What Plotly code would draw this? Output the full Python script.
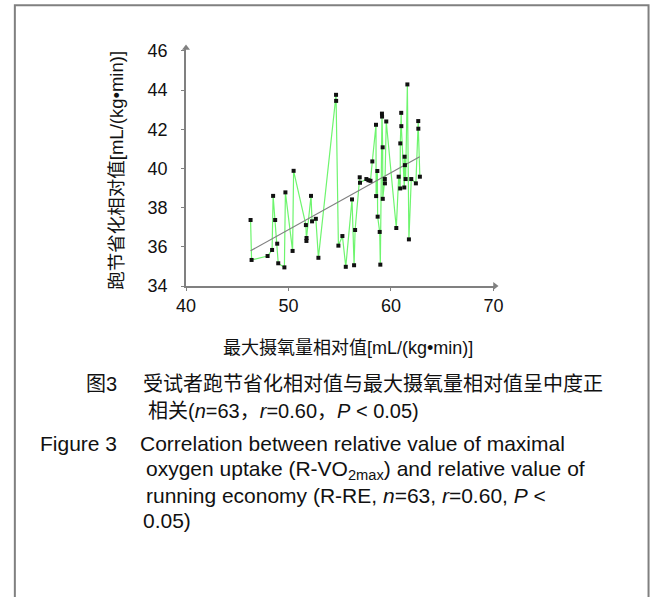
import plotly.graph_objects as go

# ---- data ----
vo2_rel = [46.3, 46.4, 47.96, 48.4, 48.5, 48.7, 48.9, 49.0, 49.6, 49.7,
           50.4, 50.5, 51.7, 51.75, 51.76, 52.2, 52.3, 52.67, 52.92, 54.64,
           54.65, 54.87, 55.26, 55.59, 56.2, 56.4, 56.5, 56.95, 56.98, 57.6,
           57.8, 58.0, 58.18, 58.54, 58.55, 58.67, 58.7, 58.9, 58.96, 59.12,
           59.13, 59.19, 59.2, 59.4, 59.41, 59.54, 60.52, 60.75, 60.9, 60.91,
           61.0, 61.01, 61.3, 61.33, 61.36, 61.43, 61.6, 61.75, 61.98, 62.43,
           62.66, 62.67, 62.82]
re_rel = [37.37, 35.33, 35.53, 35.84, 38.6, 37.37, 36.16, 35.16, 34.95, 38.78,
          35.79, 39.88, 37.11, 36.3, 36.45, 38.6, 37.3, 37.43, 35.44, 43.76,
          43.45, 36.06, 36.55, 34.98, 38.42, 35.06, 36.86, 39.55, 39.27, 39.46,
          39.4, 39.37, 40.36, 42.23, 38.59, 39.87, 37.54, 36.76, 35.09, 42.8,
          42.65, 41.08, 38.45, 39.46, 39.24, 42.4, 36.96, 39.58, 38.98, 41.28,
          42.84, 42.16, 39.03, 40.6, 40.17, 39.46, 44.29, 36.38, 39.46, 39.24,
          42.42, 42.03, 39.58]
fit_x = [46.3, 62.8]
fit_y = [35.8, 40.6]
x_ticks = [40, 50, 60, 70]
y_ticks = [34, 36, 38, 40, 42, 44, 46]

y_title = "跑节省化相对值[mL/(kg•min)]"
x_title = "最大摄氧量相对值[mL/(kg•min)]"

# ---- layout geometry (pixels) ----
FW, FH = 651, 597
L = 185.5
XR = [40, 70.15]
YR = [34, 46.15]
W = (XR[1] - XR[0]) * 10.27
H = (YR[1] - YR[0]) * 19.6
BOT = 286.0
B = FH - BOT
T = FH - B - H
R = FW - L - W

def pxx(x):
    return (x - L) / W

def pxy(y):
    return (BOT - y) / H

GRAY = "#808080"
FONT = "Liberation Sans, Arial, Noto Sans CJK SC"

fig = go.Figure()
fig.add_trace(go.Scatter(x=vo2_rel, y=re_rel, mode="lines",
                         line=dict(color="rgb(110,245,110)", width=1.2),
                         hoverinfo="skip", showlegend=False))
fig.add_trace(go.Scatter(x=fit_x, y=fit_y, mode="lines",
                         line=dict(color=GRAY, width=1.2),
                         showlegend=False))
fig.add_trace(go.Scatter(x=vo2_rel, y=re_rel, mode="markers",
                         marker=dict(symbol="square", size=4, color="#111111"),
                         showlegend=False))
# axis arrowheads at the ends of the axis ranges
fig.add_trace(go.Scatter(x=[XR[1]], y=[YR[0]], mode="markers", cliponaxis=False,
                         marker=dict(symbol="triangle-right", size=7, color=GRAY),
                         hoverinfo="skip", showlegend=False))
fig.add_trace(go.Scatter(x=[XR[0]], y=[YR[1]], mode="markers", cliponaxis=False,
                         marker=dict(symbol="triangle-up", size=7, color=GRAY),
                         hoverinfo="skip", showlegend=False))

anns = []

def txt(x, y, s, size, xanchor="left", angle=0):
    anns.append(dict(x=pxx(x), y=pxy(y), xref="paper", yref="paper", text=s,
                     showarrow=False, xanchor=xanchor, yanchor="middle",
                     textangle=angle, font=dict(family=FONT, size=size, color="#111111")))

txt(115, 170, y_title, 18.5, xanchor="center", angle=-90)
txt(221, 348, x_title, 18)
txt(83, 384, "图3", 20)
txt(140, 384, "受试者跑节省化相对值与最大摄氧量相对值呈中度正", 20)
txt(145, 411, "相关(<i>n</i>=63，<i>r</i>=0.60，<i>P</i> &lt; 0.05)", 20)
txt(37, 444, "Figure 3", 21)
txt(137, 444, "Correlation between relative value of maximal", 21)
txt(143, 470, "oxygen uptake (R-VO<sub>2max</sub>) and relative value of", 21)
txt(143, 496, "running economy (R-RE, <i>n</i>=63, <i>r</i>=0.60, <i>P</i> &lt;", 21)
txt(140, 521, "0.05)", 21)

shapes = [dict(type="rect", xref="paper", yref="paper",
               x0=pxx(14), x1=pxx(649), y0=pxy(5), y1=pxy(610),
               line=dict(color=GRAY, width=2), fillcolor="rgba(0,0,0,0)")]

fig.update_layout(
    width=FW, height=FH,
    margin=dict(l=L, r=R, t=T, b=B),
    paper_bgcolor="white", plot_bgcolor="white",
    annotations=anns, shapes=shapes,
    font=dict(family=FONT, size=18, color="#111111"),
)
fig.update_xaxes(range=XR, tickvals=x_ticks, showline=True, linecolor=GRAY,
                 linewidth=1.5, ticks="outside", ticklen=3, tickcolor=GRAY,
                 showgrid=False, zeroline=False,
                 tickfont=dict(family=FONT, size=18, color="#111111"))
fig.update_yaxes(range=YR, tickvals=y_ticks, showline=True, linecolor=GRAY,
                 linewidth=1.5, ticks="outside", ticklen=3, tickcolor=GRAY,
                 showgrid=False, zeroline=False, ticklabelstandoff=10,
                 tickfont=dict(family=FONT, size=18, color="#111111"))

fig.write_html("out.html")
